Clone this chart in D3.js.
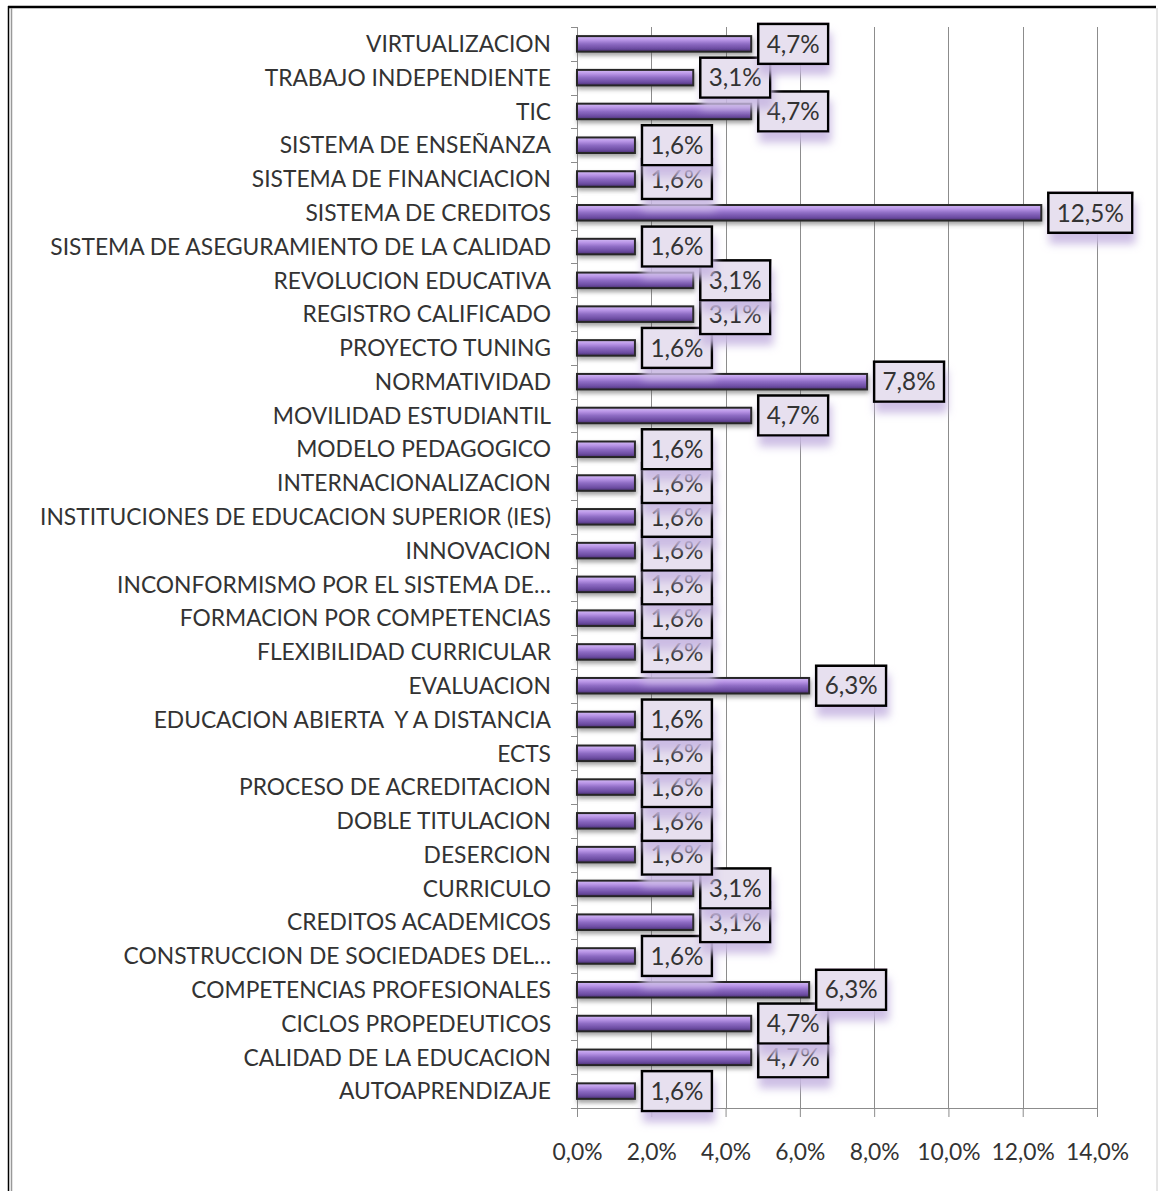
<!DOCTYPE html>
<html>
<head>
<meta charset="utf-8">
<script src="https://cdn.jsdelivr.net/npm/d3@7"></script>
<style>
  html, body { margin: 0; padding: 0; background: #fff; }
  svg { display: block; }
</style>
</head>
<body>
<div id="chart"></div>
<script>
// categories, top to bottom as in the picture
const categories = [
    'VIRTUALIZACION', 'TRABAJO INDEPENDIENTE', 'TIC', 'SISTEMA DE ENSEÑANZA',
    'SISTEMA DE FINANCIACION', 'SISTEMA DE CREDITOS', 'SISTEMA DE ASEGURAMIENTO DE LA CALIDAD',
    'REVOLUCION EDUCATIVA', 'REGISTRO CALIFICADO', 'PROYECTO TUNING', 'NORMATIVIDAD',
    'MOVILIDAD ESTUDIANTIL', 'MODELO PEDAGOGICO', 'INTERNACIONALIZACION',
    'INSTITUCIONES DE EDUCACION SUPERIOR (IES)', 'INNOVACION', 'INCONFORMISMO POR EL SISTEMA DE…',
    'FORMACION POR COMPETENCIAS', 'FLEXIBILIDAD CURRICULAR', 'EVALUACION',
    'EDUCACION ABIERTA  Y A DISTANCIA', 'ECTS', 'PROCESO DE ACREDITACION', 'DOBLE TITULACION',
    'DESERCION', 'CURRICULO', 'CREDITOS ACADEMICOS', 'CONSTRUCCION DE SOCIEDADES DEL…',
    'COMPETENCIAS PROFESIONALES', 'CICLOS PROPEDEUTICOS', 'CALIDAD DE LA EDUCACION', 'AUTOAPRENDIZAJE'
];

// percentages
const values = [
    4.69, 3.13, 4.69, 1.56,
    1.56, 12.5, 1.56,
    3.13, 3.13, 1.56, 7.81,
    4.69, 1.56, 1.56,
    1.56, 1.56, 1.56,
    1.56, 1.56, 6.25,
    1.56, 1.56, 1.56, 1.56,
    1.56, 3.13, 3.13, 1.56,
    6.25, 4.69, 4.69, 1.56
];

const xTicks = [0, 2, 4, 6, 8, 10, 12, 14];

const data = categories.map((c, i) => ({ name: c, value: values[i], idx: i }));

const width = 1158, height = 1191;
const fontFamily = 'Lato, "Liberation Sans", sans-serif';
const textColor = '#333';
const pct = d => d.toFixed(1).replace('.', ',') + '%';

const svg = d3.select('#chart')
    .append('svg')
    .attr('width', width)
    .attr('height', height);

// Measure text so the font matches the picture's label widths
function measure(text, size) {
    const t = svg.append('text')
        .style('font-family', fontFamily)
        .style('font-size', size + 'px')
        .text(text);
    const w = t.node().getComputedTextLength();
    t.remove();
    return w;
}
const catSize = 22 * 501 / measure('SISTEMA DE ASEGURAMIENTO DE LA CALIDAD', 22);
const lblSize = 24 * 53 / measure('4,7%', 24);
const tickSize = 22 * 50 / measure('0,0%', 22);

const defs = svg.append('defs');

const grad = defs.append('linearGradient')
    .attr('id', 'barGrad')
    .attr('x1', 0).attr('y1', 0).attr('x2', 0).attr('y2', 1);
[
    ['0%', '#d4bcf6'], ['25%', '#b894e6'], ['50%', '#8e6cc4'],
    ['80%', '#6c4ca2'], ['100%', '#48306e']
].forEach(([o, c]) => grad.append('stop').attr('offset', o).attr('stop-color', c));

const barShadow = defs.append('filter')
    .attr('id', 'barShadow')
    .attr('x', '-10%').attr('y', '-50%').attr('width', '130%').attr('height', '250%');
barShadow.append('feDropShadow')
    .attr('dx', 1).attr('dy', 3).attr('stdDeviation', 2)
    .attr('flood-color', '#555').attr('flood-opacity', 0.55);

const lblShadow = defs.append('filter')
    .attr('id', 'lblShadow')
    .attr('x', '-20%').attr('y', '-30%').attr('width', '140%').attr('height', '190%');
lblShadow.append('feDropShadow')
    .attr('dx', 2).attr('dy', 10).attr('stdDeviation', 4.5)
    .attr('flood-color', '#c8b8e2').attr('flood-opacity', 0.9);

// Frame
svg.append('line').attr('x1', 8).attr('x2', 1156).attr('y1', 7).attr('y2', 7)
    .style('stroke', '#000').style('stroke-width', 2.5);
svg.append('line').attr('x1', 8.5).attr('x2', 8.5).attr('y1', 6).attr('y2', height)
    .style('stroke', '#000').style('stroke-width', 1.5);
svg.append('line').attr('x1', 11.5).attr('x2', 11.5).attr('y1', 8).attr('y2', height)
    .style('stroke', '#999').style('stroke-width', 1.5);
svg.append('line').attr('x1', 1157).attr('x2', 1157).attr('y1', 8).attr('y2', height)
    .style('stroke', '#ccc').style('stroke-width', 1);

// Scales
const xScale = d3.scaleLinear().domain([0, 14]).range([577, 1097]);
const yScale = d3.scaleBand()
    .domain(categories)
    .range([27, 1108])
    .paddingInner(0.54)
    .paddingOuter(0.27);
const step = yScale.step();

// Grid
svg.append('g')
    .selectAll('line')
    .data(xTicks.slice(1))
    .enter()
    .append('line')
    .attr('x1', d => Math.round(xScale(d)) + 0.5)
    .attr('x2', d => Math.round(xScale(d)) + 0.5)
    .attr('y1', 27)
    .attr('y2', 1108)
    .style('stroke', '#8c8c8c')
    .style('stroke-width', 1);

// X axis
const xAxis = svg.append('g')
    .attr('transform', 'translate(0,1108)')
    .call(d3.axisBottom(xScale).tickValues(xTicks).tickFormat(pct).tickSize(9).tickSizeOuter(0));
xAxis.select('.domain').style('stroke', '#8c8c8c');
xAxis.selectAll('.tick line').style('stroke', '#8c8c8c');
xAxis.selectAll('.tick text')
    .attr('y', 44)
    .attr('dy', '0.35em')
    .style('font-family', fontFamily)
    .style('font-size', tickSize + 'px')
    .style('fill', textColor);

// Y axis (ticks at band boundaries, drawn by hand since band ticks sit at centers)
const yAxis = svg.append('g').attr('class', 'y-axis');
yAxis.append('line')
    .attr('x1', 577.5).attr('x2', 577.5).attr('y1', 27).attr('y2', 1108)
    .style('stroke', '#8c8c8c');
yAxis.selectAll('.cat-tick')
    .data(d3.range(categories.length + 1))
    .enter()
    .append('line')
    .attr('x1', 571).attr('x2', 577)
    .attr('y1', i => Math.round(27 + i * step) + 0.5)
    .attr('y2', i => Math.round(27 + i * step) + 0.5)
    .style('stroke', '#8c8c8c');
yAxis.selectAll('.cat-label')
    .data(data)
    .enter()
    .append('text')
    .attr('x', 551)
    .attr('y', d => yScale(d.name) + yScale.bandwidth() / 2)
    .attr('dy', '0.36em')
    .attr('text-anchor', 'end')
    .style('font-family', fontFamily)
    .style('font-size', catSize + 'px')
    .style('fill', textColor)
    .style('white-space', 'pre')
    .text(d => d.name);

// Bars
svg.append('g')
    .selectAll('rect')
    .data(data)
    .enter()
    .append('rect')
    .attr('x', xScale(0))
    .attr('y', d => yScale(d.name))
    .attr('width', d => xScale(d.value) - xScale(0))
    .attr('height', yScale.bandwidth())
    .attr('fill', 'url(#barGrad)')
    .attr('stroke', '#262626')
    .attr('stroke-width', 2)
    .attr('filter', 'url(#barShadow)');

// Data labels: bottom row first so upper boxes sit on top
const lblG = svg.append('g');
data.slice().reverse().forEach(d => {
    const txt = pct(d.value);
    const tw = measure(txt, lblSize);
    const bw = tw + 17, bh = 40;
    const bx = xScale(d.value) + 7;
    const cy = yScale(d.name) + yScale.bandwidth() / 2;
    const g = lblG.append('g');
    g.append('rect')
        .attr('x', bx)
        .attr('y', cy - bh / 2)
        .attr('width', bw)
        .attr('height', bh)
        .attr('fill', '#e7e0ef')
        .attr('stroke', '#000')
        .attr('stroke-width', 2.5)
        .attr('filter', 'url(#lblShadow)');
    g.append('text')
        .attr('x', bx + bw / 2)
        .attr('y', cy)
        .attr('dy', '0.36em')
        .attr('text-anchor', 'middle')
        .style('font-family', fontFamily)
        .style('font-size', lblSize + 'px')
        .style('fill', textColor)
        .text(txt);
});
</script>
</body>
</html>
